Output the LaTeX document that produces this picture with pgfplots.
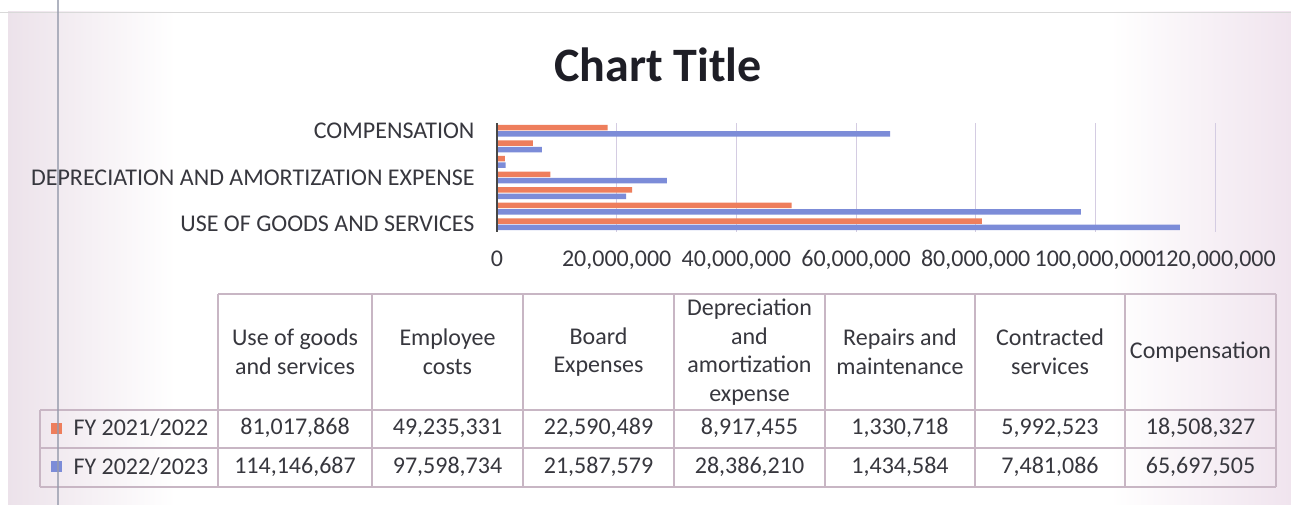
\documentclass[border=0pt]{standalone}
\usepackage{pgfplots}
\pgfplotsset{compat=1.18}
\usepackage{fontspec}
\setmainfont{Carlito}
\definecolor{orng}{RGB}{238,126,92}
\definecolor{blu}{RGB}{124,140,216}
\definecolor{txt}{RGB}{55,55,62}
\definecolor{tline}{RGB}{200,182,196}
\definecolor{grd}{RGB}{212,204,226}
\definecolor{pnk}{RGB}{236,226,234}
\definecolor{pnkr}{RGB}{240,228,238}
\newcommand{\fs}{\fontsize{24bp}{28.5bp}\selectfont}
\begin{document}
\begin{tikzpicture}[x=1bp,y=1bp]
\path[use as bounding box] (0,0) rectangle (1291,505);
\fill[white] (0,0) rectangle (1291,505);
\shade[left color=pnk, right color=white] (8,0) rectangle (175,493);
\shade[left color=white, right color=pnkr] (1110,0) rectangle (1291,493);
\draw[black!15] (0,493) -- (1291,493);

\node[font=\bfseries\fontsize{48bp}{56bp}\selectfont, text={rgb,255:red,30;green,30;blue,38}] at (658,440) {Chart Title};

\begin{axis}[
  at={(497bp,273bp)}, anchor=south west,
  scale only axis, width=718bp, height=109bp,
  xbar, xmin=0, xmax=120000000, ymin=-0.5, ymax=6.5,
  scaled x ticks=false,
  axis line style={draw=none},
  major tick length=0, tick style={draw=none},
  xtick={0,20000000,40000000,60000000,80000000,100000000,120000000},
  xticklabels={0,{20,000,000},{40,000,000},{60,000,000},{80,000,000},{100,000,000},{120,000,000}},
  ytick={0,3,6},
  yticklabels={USE OF GOODS AND SERVICES,DEPRECIATION AND AMORTIZATION EXPENSE,COMPENSATION},
  xticklabel style={font=\fs, text=txt, yshift=-15bp},
  yticklabel style={font=\fs, text=txt, xshift=-19bp},
  xmajorgrids, grid style={grd, line width=1bp},
  clip=false,
]
\addplot[fill=orng, draw=none, bar width=5.5bp, bar shift=3.2bp] coordinates {
  (81017868,0) (49235331,1) (22590489,2) (8917455,3) (1330718,4) (5992523,5) (18508327,6)};
\addplot[fill=blu, draw=none, bar width=5.5bp, bar shift=-3.2bp] coordinates {
  (114146687,0) (97598734,1) (21587579,2) (28386210,3) (1434584,4) (7481086,5) (65697505,6)};
\draw[black!72, line width=2.6bp] (rel axis cs:0,0) -- (rel axis cs:0,1);
\end{axis}

% data table
\begin{scope}[tline, line width=1.1bp]
\draw (218,211) -- (1276,211);
\draw (40,95) -- (1276,95);
\draw (40,57) -- (1276,57);
\draw (40,18) -- (1276,18);
\draw (40,95) -- (40,18);
\foreach \xx in {218,372,523,674,825,975,1125,1276} {\draw (\xx,211) -- (\xx,18);}
\end{scope}

\begin{scope}[every node/.style={font=\fs, text=txt, align=center}]
\node at (295,153) {Use of goods\\and services};
\node at (447.5,153) {Employee\\costs};
\node at (598.5,153) {Board\\Expenses};
\node at (749.5,153) {Depreciation\\and\\amortization\\expense};
\node at (900,153) {Repairs and\\maintenance};
\node at (1050,153) {Contracted\\services};
\node at (1200.5,153) {Compensation};

\node at (295,77) {81,017,868};
\node at (447.5,77) {49,235,331};
\node at (598.5,77) {22,590,489};
\node at (749.5,77) {8,917,455};
\node at (900,77) {1,330,718};
\node at (1050,77) {5,992,523};
\node at (1200.5,77) {18,508,327};

\node at (295,38) {114,146,687};
\node at (447.5,38) {97,598,734};
\node at (598.5,38) {21,587,579};
\node at (749.5,38) {28,386,210};
\node at (900,38) {1,434,584};
\node at (1050,38) {7,481,086};
\node at (1200.5,38) {65,697,505};

\node[anchor=west] at (70,77) {FY 2021/2022};
\node[anchor=west] at (70,38) {FY 2022/2023};
\end{scope}
\fill[orng] (51,71) rectangle (62,82);
\fill[blu] (51,33) rectangle (62,44);

\draw[color={rgb,255:red,150;green,155;blue,172}, line width=1.6bp, opacity=0.75] (58,0) -- (58,505);
\end{tikzpicture}
\end{document}
